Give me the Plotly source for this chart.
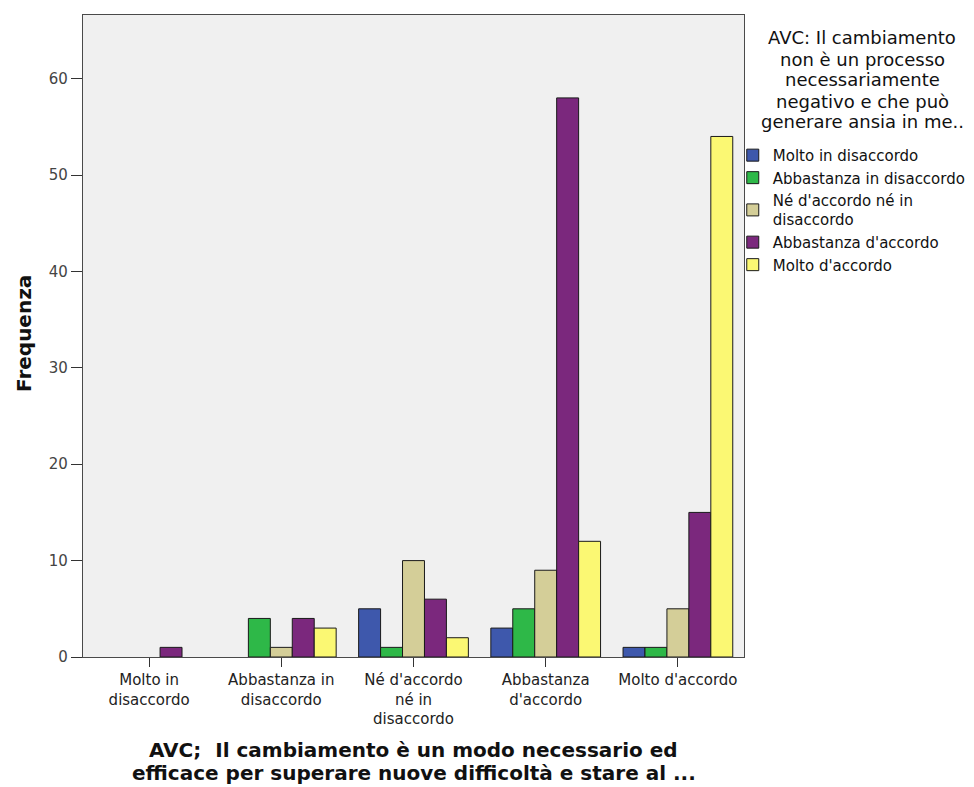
import plotly.graph_objects as go

# Categories on the x axis (answer to the first question)
categories = [
    "Molto in<br>disaccordo",
    "Abbastanza in<br>disaccordo",
    "Né d'accordo<br>né in<br>disaccordo",
    "Abbastanza<br>d'accordo",
    "Molto d'accordo",
]

# Series: answer to the second question
series_names = [
    "Molto in disaccordo",
    "Abbastanza in disaccordo",
    "Né d'accordo né in<br>disaccordo",
    "Abbastanza d'accordo",
    "Molto d'accordo",
]
molto_disaccordo = [None, None, 5, 3, 1]
abbastanza_disaccordo = [None, 4, 1, 5, 1]
ne_ne = [None, 1, 10, 9, 5]
abbastanza_accordo = [1, 4, 6, 58, 15]
molto_accordo = [None, 3, 2, 12, 54]

series_values = [molto_disaccordo, abbastanza_disaccordo, ne_ne,
                 abbastanza_accordo, molto_accordo]
colors = ["#3E58AC", "#2EB848", "#D4CE98", "#7B287D", "#FBF873"]

y_ticks = [0, 10, 20, 30, 40, 50, 60]

legend_heading_lines = [
    "AVC: Il cambiamento",
    "non è un processo",
    "necessariamente",
    "negativo e che può",
    "generare ansia in me..",
]
x_title_lines = [
    "AVC;  Il cambiamento è un modo necessario ed",
    "efficace per superare nuove difficoltà e stare al ...",
]
y_title = "Frequenza"

FONT = "DejaVu Sans, Liberation Sans, Arial, sans-serif"

# Plot-area geometry in pixels (used to place the free-standing texts)
W, H = 974, 787
L, R, T, B = 83, 230, 15, 130
PW, PH = W - L - R, H - T - B


def px_to_paper(xp, yp):
    return (xp - L) / PW, (H - B - yp) / PH


fig = go.Figure()
for name, vals, col in zip(series_names, series_values, colors):
    fig.add_trace(go.Bar(
        x=categories, y=vals, name=name,
        marker=dict(color=col, line=dict(color="#1a1a1a", width=1)),
    ))

fig.update_layout(
    width=W, height=H,
    margin=dict(l=L, r=R, t=T, b=B, autoexpand=False),
    paper_bgcolor="white",
    plot_bgcolor="#F0F0F0",
    barmode="group",
    bargap=0.17,
    bargroupgap=0,
    font=dict(family=FONT, size=13, color="#1a1a1a"),
    showlegend=True,
    legend=dict(
        x=0.983, xanchor="left", y=0.807, yanchor="top",
        font=dict(family=FONT, size=15, color="#111"),
        tracegroupgap=0, itemwidth=30,
        bgcolor="rgba(0,0,0,0)",
    ),
    xaxis=dict(
        showline=True, linecolor="#4a4a4a", linewidth=1.2, mirror=True,
        ticks="outside", ticklen=9, tickcolor="#333",
        tickfont=dict(family=FONT, size=15, color="#222"),
        showgrid=False,
    ),
    yaxis=dict(
        range=[0, 66.6],
        tickvals=y_ticks,
        showline=True, linecolor="#4a4a4a", linewidth=1.2, mirror=True,
        ticks="outside", ticklen=11, tickcolor="#333",
        tickfont=dict(family=FONT, size=15, color="#444"),
        showgrid=False, zeroline=False,
    ),
)

# Legend heading, centred over the legend entries, one line per annotation
for i, line in enumerate(legend_heading_lines):
    xp, yp = px_to_paper(862, 38 + 21 * i)
    fig.add_annotation(
        xref="paper", yref="paper", x=xp, y=yp, xanchor="center", yanchor="middle",
        text=line, showarrow=False,
        font=dict(family=FONT, size=18, color="#111"),
    )

# Vertical axis title
xp, yp = px_to_paper(24, 334)
fig.add_annotation(
    xref="paper", yref="paper", x=xp, y=yp, xanchor="center", yanchor="middle",
    text=f"<b>{y_title}</b>", textangle=-90, showarrow=False,
    font=dict(family=FONT, size=20, color="#111"),
)

# Horizontal axis title, one annotation per line
for i, line in enumerate(x_title_lines):
    xp, yp = px_to_paper(L + PW / 2, 750 + 23 * i)
    fig.add_annotation(
        xref="paper", yref="paper", x=xp, y=yp, xanchor="center", yanchor="middle",
        text=f"<b>{line}</b>", showarrow=False,
        font=dict(family=FONT, size=20, color="#111"),
    )

fig.write_html("out.html")
